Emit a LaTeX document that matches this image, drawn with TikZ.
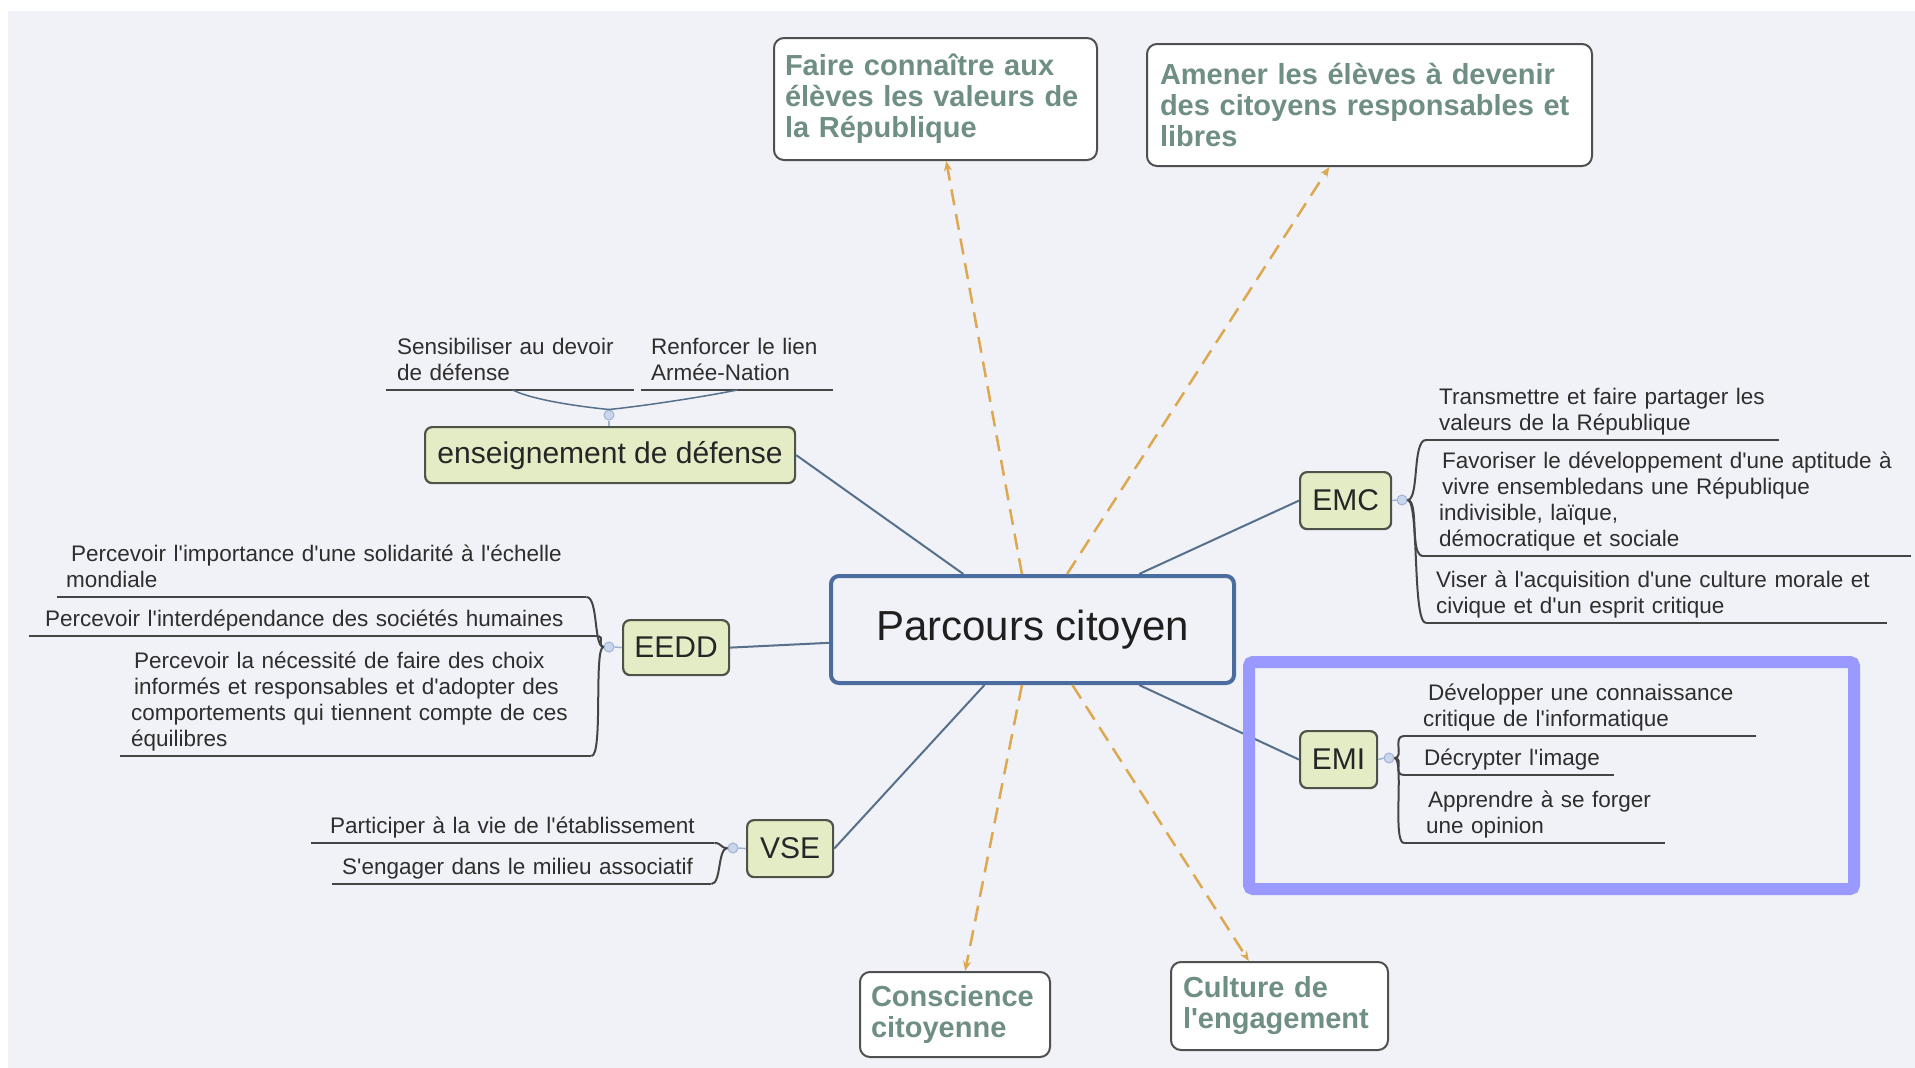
\documentclass[tikz,border=0pt]{standalone}
\usepackage{fontspec}
\setmainfont{Liberation Sans}[Ligatures=TeXOff]
\usetikzlibrary{calc,arrows.meta}
\definecolor{bgc}{HTML}{F1F2F7}
\definecolor{outertxt}{HTML}{6F8E84}
\definecolor{boxline}{HTML}{505050}
\definecolor{greenf}{HTML}{E4ECC6}
\definecolor{greenl}{HTML}{4C5448}
\definecolor{cblue}{HTML}{4A6C9E}
\definecolor{conn}{HTML}{56708C}
\definecolor{dashc}{HTML}{DCA850}
\definecolor{purp}{HTML}{9999FF}
\definecolor{dotc}{HTML}{C9D6EC}
\definecolor{dotl}{HTML}{9DB3D6}
\definecolor{childtxt}{HTML}{2E2E2E}
\definecolor{ulc}{HTML}{454545}
\tikzset{
  outerbox/.style={draw=boxline, line width=2pt, fill=white, rounded corners=10pt,
    anchor=north west, align=left, font=\fontsize{29}{31}\selectfont\bfseries,
    text=outertxt, inner ysep=0pt},
  greenbox/.style={draw=greenl, line width=2.2pt, fill=greenf, rounded corners=7pt,
    anchor=north west, inner sep=0pt, font=\fontsize{30}{34}\selectfont, text=black!85},
  centerbox/.style={draw=cblue, line width=4pt, fill=bgc, rounded corners=8pt,
    anchor=north west, inner sep=0pt, font=\fontsize{42}{46}\selectfont, text=black!88},
  childtxt/.style={anchor=south west, align=left, inner xsep=0pt, inner ysep=2pt,
    font=\fontsize{22.5}{26}\selectfont, text=childtxt, execute at end node=\strut},
  uline/.style={draw=ulc, line width=2pt},
  bline/.style={draw=ulc, line width=2pt},
  dotnode/.style={circle, draw=dotl, fill=dotc, line width=1pt, minimum size=10pt, inner sep=0pt},
  dotlink/.style={draw=dotl, line width=1.5pt},
  mainconn/.style={draw=conn, line width=2pt},
  dasharrow/.style={draw=dashc, line width=2.5pt, dash pattern=on 16pt off 9pt,
    -{Stealth[length=10pt,width=8pt]}},
}
\begin{document}
\begin{tikzpicture}[x=1pt,y=-1pt]
\useasboundingbox (0,0) rectangle (1915,1068);
\fill[white] (0,0) rectangle (1915,1068);
\fill[bgc] (8,11) rectangle (1915,1068);

% central node
\node[centerbox, minimum width=403pt, minimum height=107pt] (C) at (829,574) {Parcours citoyen};

% outer goals
\node[outerbox, inner xsep=11pt, text width=301pt, minimum height=122pt] (B1) at (773,37)
  {Faire connaître aux\\élèves les valeurs de\\la République};
\node[outerbox, inner xsep=13pt, text width=419pt, minimum height=122pt] (B2) at (1146,43)
  {Amener les élèves à devenir\\des citoyens responsables et\\libres};
\node[outerbox, inner xsep=11pt, text width=168pt, minimum height=85pt] (B3) at (859,971)
  {Conscience\\citoyenne};
\node[outerbox, inner xsep=12pt, text width=193pt, minimum height=88pt] (B4) at (1170,961)
  {Culture de\\l'engagement};

% dashed arrows
\draw[dasharrow] ($(C.north west)!0.474!(C.north east)$) -- ($(B1.south west)!0.533!(B1.south east)$);
\draw[dasharrow] ($(C.north west)!0.585!(C.north east)$) -- ($(B2.south west)!0.41!(B2.south east)$);
\draw[dasharrow] ($(C.south west)!0.474!(C.south east)$) -- ($(B3.north west)!0.553!(B3.north east)$);
\draw[dasharrow] ($(C.south west)!0.598!(C.south east)$) -- ($(B4.north west)!0.36!(B4.north east)$);

% green topic boxes
\node[greenbox, minimum width=370pt, minimum height=56pt] (ENS) at (424,426) {enseignement de défense};
\node[greenbox, minimum width=91pt, minimum height=57pt] (EMC) at (1299,471) {EMC};
\node[greenbox, minimum width=77pt, minimum height=57pt] (EMI) at (1299,730) {EMI};
\node[greenbox, minimum width=106pt, minimum height=55pt] (EEDD) at (622,619) {EEDD};
\node[greenbox, minimum width=86pt, minimum height=57pt] (VSE) at (746,819) {VSE};

% main connectors
\draw[mainconn] (ENS.east) -- ($(C.north west)!0.33!(C.north east)$);
\draw[mainconn] ($(C.north west)!0.762!(C.north east)$) -- (EMC.west);
\draw[mainconn] ($(C.south west)!0.762!(C.south east)$) -- (EMI.west);
\draw[mainconn] (EEDD.east) -- ($(C.north west)!0.62!(C.south west)$);
\draw[mainconn] (VSE.east) -- ($(C.south west)!0.382!(C.south east)$);

% small hub circles
\node[dotnode] (c1) at (1402,500) {};
\node[dotnode] (c2) at (1389,758) {};
\node[dotnode] (c3) at (609,647) {};
\node[dotnode] (c4) at (733,848) {};
\node[dotnode] (c5) at (609,415) {};
\draw[dotlink] (EMC.east) -- (c1.west);
\draw[dotlink] (EMI.east) -- (c2.west);
\draw[dotlink] (EEDD.west) -- (c3.east);
\draw[dotlink] (VSE.west) -- (c4.east);
\draw[dotlink] (ENS.north -| c5) -- (c5.south);

% EMC children
\node[childtxt, text width=340pt] (t1) at (1439,440) {Transmettre et faire partager les\\valeurs de la République};
\node[childtxt, text width=469pt] (t2) at (1442,556) {Favoriser le développement d'une aptitude à\\vivre ensembledans une République\\\hspace*{-3pt}indivisible, laïque,\\\hspace*{-3pt}démocratique et sociale};
\node[childtxt, text width=451pt] (t3) at (1436,623) {Viser à l'acquisition d'une culture morale et\\civique et d'un esprit critique};
\draw[uline] ([xshift=-13pt]t1.south west) -- (t1.south east);
\draw[uline] ([xshift=-19pt]t2.south west) -- (t2.south east);
\draw[uline] ([xshift=-10pt]t3.south west) -- (t3.south east);
\draw[bline] (c1.east) .. controls +(12,0) and +(-14,0) .. ([xshift=-13pt]t1.south west);
\draw[bline] (c1.east) .. controls +(12,0) and +(-14,0) .. ([xshift=-19pt]t2.south west);
\draw[bline] (c1.east) .. controls +(12,0) and +(-14,0) .. ([xshift=-10pt]t3.south west);

% EMI children
\node[childtxt, text width=328pt] (e1) at (1428,736) {Développer une connaissance\\\hspace*{-5pt}critique de l'informatique};
\node[childtxt, text width=190pt] (e2) at (1424,775) {Décrypter l'image};
\node[childtxt, text width=237pt] (e3) at (1428,843) {Apprendre à se forger\\\hspace*{-2pt}une opinion};
\draw[uline] ([xshift=-24pt]e1.south west) -- (e1.south east);
\draw[uline] ([xshift=-20pt]e2.south west) -- (e2.south east);
\draw[uline] ([xshift=-24pt]e3.south west) -- (e3.south east);
\draw[bline] (c2.east) .. controls +(10,0) and +(-12,0) .. ([xshift=-24pt]e1.south west);
\draw[bline] (c2.east) .. controls +(10,0) and +(-12,0) .. ([xshift=-20pt]e2.south west);
\draw[bline] (c2.east) .. controls +(10,0) and +(-12,0) .. ([xshift=-24pt]e3.south west);

% EEDD children
\node[childtxt, text width=520pt] (d1) at (66,597) {\hspace*{5pt}Percevoir l'importance d'une solidarité à l'échelle\\mondiale};
\node[childtxt, text width=553pt] (d2) at (45,636) {Percevoir l'interdépendance des sociétés humaines};
\node[childtxt, text width=460pt] (d3) at (131,756) {\hspace*{3pt}Percevoir la nécessité de faire des choix\\\hspace*{3pt}informés et responsables et d'adopter des\\comportements qui tiennent compte de ces\\équilibres};
\draw[uline] ([xshift=-9pt]d1.south west) -- (d1.south east);
\draw[uline] ([xshift=-16pt]d2.south west) -- (d2.south east);
\draw[uline] ([xshift=-11pt]d3.south west) -- (d3.south east);
\draw[bline] (c3.west) .. controls +(-10,0) and +(12,0) .. (d1.south east);
\draw[bline] (c3.west) .. controls +(-6,0) and +(6,0) .. (d2.south east);
\draw[bline] (c3.west) .. controls +(-10,0) and +(12,0) .. (d3.south east);

% VSE children
\node[childtxt, text width=384pt] (v1) at (330,843) {Participer à la vie de l'établissement};
\node[childtxt, text width=369pt] (v2) at (342,884) {S'engager dans le milieu associatif};
\draw[uline] ([xshift=-19pt]v1.south west) -- (v1.south east);
\draw[uline] ([xshift=-10pt]v2.south west) -- (v2.south east);
\draw[bline] (c4.west) .. controls +(-8,0) and +(8,0) .. (v1.south east);
\draw[bline] (c4.west) .. controls +(-10,0) and +(10,0) .. (v2.south east);

% enseignement de défense children
\node[childtxt, text width=237pt] (s1) at (397,390) {Sensibiliser au devoir\\de défense};
\node[childtxt, text width=182pt] (s2) at (651,390) {Renforcer le lien\\Armée-Nation};
\draw[uline] ([xshift=-11pt]s1.south west) -- (s1.south east);
\draw[uline] ([xshift=-10pt]s2.south west) -- (s2.south east);
\draw[dotlink, draw=conn] (c5.north) .. controls +(-30,-3) and +(20,10) .. ($([xshift=-11pt]s1.south west)!0.51!(s1.south east)$);
\draw[dotlink, draw=conn] (c5.north) .. controls +(30,-3) and +(-40,8) .. ($([xshift=-10pt]s2.south west)!0.5!(s2.south east)$);

% highlight frame
\draw[purp, line width=12pt, rounded corners=4pt] (1249,662) rectangle (1854,889);
\end{tikzpicture}
\end{document}
